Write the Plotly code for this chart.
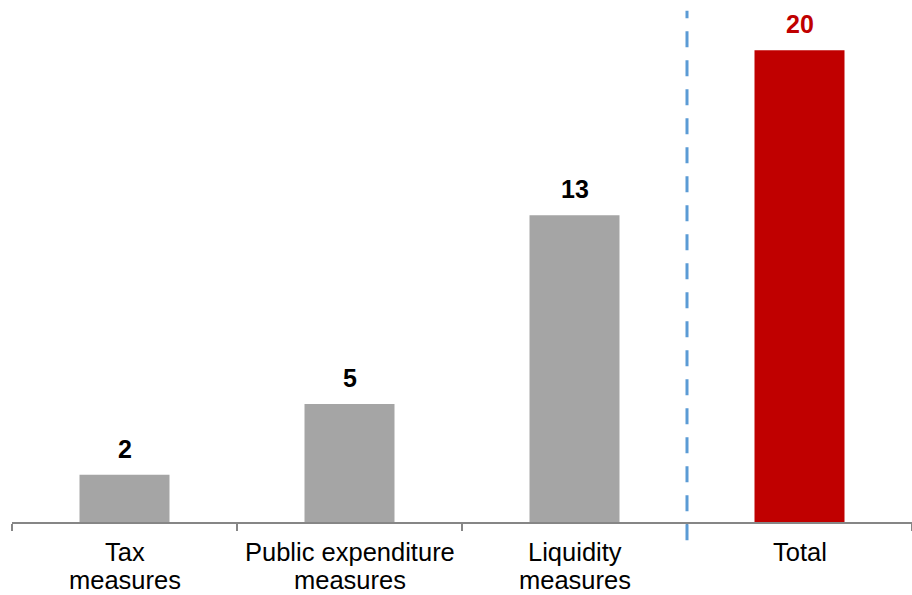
import plotly.graph_objects as go

# Fiscal response breakdown
categories = ["Tax<br>measures", "Public expenditure<br>measures", "Liquidity<br>measures", "Total"]
values = [2, 5, 13, 20]
bar_colors = ["#A5A5A5", "#A5A5A5", "#A5A5A5", "#C00000"]
label_colors = ["#000000", "#000000", "#000000", "#C00000"]

FONT = "Liberation Sans, Arial, sans-serif"

fig = go.Figure(
    go.Bar(
        x=categories,
        y=values,
        width=0.4,
        marker=dict(color=bar_colors, line=dict(width=0)),
        hoverinfo="skip",
    )
)

# Value labels above each bar
for cat, val, col in zip(categories, values, label_colors):
    fig.add_annotation(
        x=cat, y=val, text=f"<b>{val}</b>", showarrow=False,
        xref="x", yref="y", yanchor="bottom", yshift=10,
        font=dict(family=FONT, size=25, color=col),
    )

# Category labels, one annotation per line for tighter line spacing
line_pos = [-0.058, -0.111]
for cat in categories:
    for i, part in enumerate(cat.split("<br>")):
        fig.add_annotation(
            x=cat, y=line_pos[i], text=part, showarrow=False,
            xref="x", yref="paper", yanchor="middle",
            font=dict(family=FONT, size=25.5, color="#000000"),
        )

# Dashed separator between components and the total
sep = (2.5 + 0.5) / len(categories)
fig.add_shape(
    type="line", xref="paper", yref="paper",
    x0=sep, x1=sep, y0=-0.035, y1=0.985,
    line=dict(color="#5B9BD5", width=3, dash="16px,13px"),
)

fig.update_layout(
    width=912, height=595,
    margin=dict(l=12, r=0, t=3, b=73),
    paper_bgcolor="white", plot_bgcolor="white",
    showlegend=False,
    xaxis=dict(
        showline=True, linecolor="#868686", linewidth=2,
        ticks="outside", tickson="boundaries", ticklen=7, tickcolor="#868686", tickwidth=2,
        showticklabels=False,
        range=[-0.5, 3.5], showgrid=False,
    ),
    yaxis=dict(visible=False, range=[0, 22], showgrid=False, zeroline=False),
)

fig.write_html("out.html")
